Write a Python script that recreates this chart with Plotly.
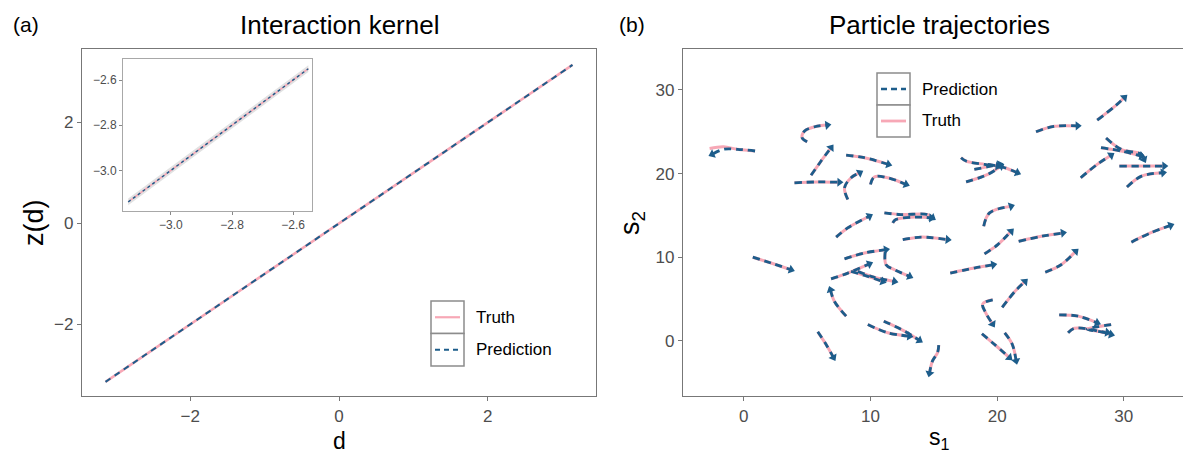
import math
import plotly.graph_objects as go

W, H = 1191, 453

# ---------------- data: panel (a) interaction kernel ----------------
d_vals = [-3.14, -2.0, -1.0, 0.0, 1.0, 2.0, 3.14]
z_truth = [-3.14, -2.0, -1.0, 0.0, 1.0, 2.0, 3.14]
z_pred = [-3.14, -2.0, -1.0, 0.0, 1.0, 2.0, 3.14]

# inset (zoom on the lower end)
inset_d = [-3.14, -3.0, -2.8, -2.6, -2.55]
inset_truth = [-3.14, -3.0, -2.8, -2.6, -2.55]
inset_pred = [-3.14, -3.0, -2.8, -2.6, -2.55]
inset_lower = [-3.155, -3.015, -2.815, -2.615, -2.565]
inset_upper = [-3.125, -2.985, -2.785, -2.585, -2.535]

# ---------------- data: panel (b) particle trajectories ----------------
pred_x = [
    [0.89, -0.5, -1.6, -2.5], [5.0, 4.6, 4.8, 5.6, 6.6], [5.31, 6.1, 6.89],
    [8.08, 9.52, 11.42], [4.0, 5.8, 7.55], [8.21, 7.95, 8.47, 9.16],
    [10.0, 10.3, 11.37, 12.81], [7.29, 8.2, 9.92], [11.1, 12.4, 14.5, 14.9],
    [11.76, 12.0, 13.5, 14.8], [12.55, 14.0, 16.1], [0.71, 2.15, 3.73],
    [7.95, 9.52, 11.23], [11.16, 11.23, 11.9, 13.1], [6.89, 8.21, 9.92],
    [8.47, 9.79, 10.97], [9.0, 10.3, 11.9], [8.08, 7.16, 6.84],
    [5.84, 6.5, 7.08], [9.79, 11.37, 13.08], [11.05, 12.68, 13.87],
    [15.39, 15.3, 14.9, 14.66], [17.15, 17.55, 19.0, 20.05], [18.2, 19.2, 20.2],
    [17.55, 19.26, 20.3], [19.26, 20.6, 21.6], [23.07, 24.5, 26.36],
    [27.9, 29.26, 30.05], [28.6, 29.8, 31.4, 31.6], [28.2, 29.8, 31.4],
    [26.6, 27.9, 29.0], [29.65, 31.4, 33.2], [30.25, 31.4, 33.1],
    [18.94, 19.4, 21.1], [19.0, 20.05, 21.1], [21.7, 23.5, 25.2],
    [16.3, 18.2, 19.7], [23.8, 25.05, 26.2], [30.6, 32.1, 33.7],
    [19.65, 18.86, 19.1, 19.65], [20.4, 21.4, 22.2], [18.8, 19.8, 20.97],
    [20.6, 21.2, 21.5], [24.9, 26.4, 27.9], [25.6, 26.1, 27.4, 29.0],
    [29.0, 28.0, 27.1, 28.7],
]
pred_y = [
    [22.7, 22.9, 22.9, 22.3], [23.8, 24.3, 25.1, 25.6, 25.8], [19.8, 21.5, 23.1],
    [22.2, 21.9, 21.1], [18.9, 19.0, 18.96], [16.9, 18.3, 19.5, 20.1],
    [18.7, 19.6, 19.5, 18.7], [12.4, 13.5, 14.9], [15.3, 15.1, 15.1, 14.7],
    [14.1, 14.5, 14.8, 14.7], [12.1, 12.4, 12.1], [10.0, 9.3, 8.5],
    [9.8, 10.5, 10.9], [10.6, 9.1, 8.5, 7.7], [7.4, 8.1, 9.2],
    [8.3, 7.7, 7.1], [8.3, 7.6, 7.1], [2.95, 4.7, 6.1],
    [1.08, -0.44, -2.0], [1.95, 0.96, 0.56], [2.35, 1.16, 0.04],
    [-0.52, -1.4, -2.4, -3.9], [21.9, 21.5, 21.1, 20.9], [20.5, 20.8, 21.1],
    [19.0, 19.9, 20.9], [21.1, 20.7, 20.1], [25.0, 25.65, 25.7],
    [26.4, 28.0, 29.1], [24.25, 22.9, 22.3, 21.7], [23.1, 22.7, 22.1],
    [19.5, 21.1, 22.2], [20.9, 20.9, 20.9], [18.4, 19.7, 20.1],
    [13.7, 15.3, 16.1], [10.4, 11.5, 13.1], [11.9, 12.5, 12.9],
    [8.1, 8.7, 9.1], [8.2, 9.1, 10.7], [11.8, 12.9, 13.8],
    [4.9, 4.4, 3.35, 2.0], [4.0, 5.9, 7.1], [0.84, -0.44, -2.0],
    [0.96, -0.44, -2.4], [3.1, 2.95, 2.15], [0.96, 1.5, 1.35, 0.75],
    [1.95, 1.7, 1.4, 1.0],
]
# truth paths coincide with predictions except where the picture shows otherwise
truth_x = [list(p) for p in pred_x]
truth_y = [list(p) for p in pred_y]
truth_x[0] = [0.89, -0.5, -1.6, -2.7]
truth_y[0] = [22.7, 22.9, 23.2, 23.0]

TRUTH_C = "#F7A8B6"
PRED_C = "#1D5D8B"
AX_C = "#777777"
TXT = "Liberation Sans, Arial, sans-serif"
TICK_FONT = dict(family=TXT, size=17, color="#4D4D4D")

# panel geometry (pixels)
L_X0, L_X1 = 74, 588
R_X0, R_X1 = 675, 1188
P_Y0, P_Y1 = 41, 388
R_XRANGE = [-4.8, 35.7]
R_YRANGE = [-6.6, 34.9]


def PX(x):
    return x / W


def PY(y):
    return 1 - y / H


fig = go.Figure()

# ---- panel (a)
fig.add_trace(go.Scatter(x=d_vals, y=z_truth, mode="lines", xaxis="x", yaxis="y",
                         line=dict(color=TRUTH_C, width=2.6), showlegend=False))
fig.add_trace(go.Scatter(x=d_vals, y=z_pred, mode="lines", xaxis="x", yaxis="y",
                         line=dict(color=PRED_C, width=2, dash="6px,5px"), showlegend=False))

# ---- inset
fig.add_trace(go.Scatter(x=inset_d, y=inset_lower, mode="lines", xaxis="x3", yaxis="y3",
                         line=dict(width=0), showlegend=False, hoverinfo="skip"))
fig.add_trace(go.Scatter(x=inset_d, y=inset_upper, mode="lines", xaxis="x3", yaxis="y3",
                         line=dict(width=0), fill="tonexty", fillcolor="rgba(190,190,190,0.45)",
                         showlegend=False, hoverinfo="skip"))
fig.add_trace(go.Scatter(x=inset_d, y=inset_truth, mode="lines", xaxis="x3", yaxis="y3",
                         line=dict(color=TRUTH_C, width=1.6), showlegend=False))
fig.add_trace(go.Scatter(x=inset_d, y=inset_pred, mode="lines", xaxis="x3", yaxis="y3",
                         line=dict(color=PRED_C, width=1.4, dash="3px,3px"), showlegend=False))

# ---- panel (b)
for tx, ty in zip(truth_x, truth_y):
    fig.add_trace(go.Scatter(x=tx, y=ty, mode="lines", xaxis="x2", yaxis="y2",
                             line=dict(color=TRUTH_C, width=3, shape="spline"), showlegend=False))
for px_, py_ in zip(pred_x, pred_y):
    fig.add_trace(go.Scatter(x=px_, y=py_, mode="lines", xaxis="x2", yaxis="y2",
                             line=dict(color=PRED_C, width=2.8, dash="7px,5px", shape="spline"),
                             showlegend=False))

# arrowheads: triangles at path ends, rotated along the last segment (in screen space)
sx = (R_X1 - R_X0) / (R_XRANGE[1] - R_XRANGE[0])
sy = (P_Y1 - P_Y0) / (R_YRANGE[1] - R_YRANGE[0])
end_x, end_y, angles = [], [], []
for px_, py_ in zip(pred_x, pred_y):
    dx = (px_[-1] - px_[-2]) * sx
    dy = (py_[-1] - py_[-2]) * sy
    end_x.append(px_[-1])
    end_y.append(py_[-1])
    angles.append(math.degrees(math.atan2(dx, dy)))
fig.add_trace(go.Scatter(x=end_x, y=end_y, mode="markers", xaxis="x2", yaxis="y2",
                         marker=dict(symbol="triangle-up", angle=angles, size=8,
                                     color=PRED_C, line=dict(width=0)),
                         showlegend=False, hoverinfo="skip"))

axis_common = dict(showgrid=False, zeroline=False, showline=True, mirror=True,
                   linecolor=AX_C, linewidth=1.3, ticks="outside", ticklen=4,
                   tickcolor=AX_C, tickwidth=1.3, tickfont=TICK_FONT, automargin=False)
inset_axis = dict(tickformat=".1f", showgrid=False, zeroline=False,
                  showline=True, mirror=True, linecolor="#A8A8A8", linewidth=1, ticks="outside",
                  ticklen=3, tickcolor="#888888", automargin=False,
                  tickfont=dict(family=TXT, size=12, color="#4D4D4D"))

fig.update_layout(
    width=W, height=H,
    margin=dict(l=0, r=0, t=0, b=0),
    paper_bgcolor="white", plot_bgcolor="white",
    font=dict(family=TXT),
    showlegend=False,
    xaxis=dict(domain=[PX(L_X0), PX(L_X1)], range=[-3.456, 3.456], anchor="y",
               tickvals=[-2, 0, 2], **axis_common),
    yaxis=dict(domain=[PY(P_Y1), PY(P_Y0)], range=[-3.42, 3.456], anchor="x",
               tickvals=[-2, 0, 2], **axis_common),
    xaxis2=dict(domain=[PX(R_X0), PX(R_X1)], range=R_XRANGE, anchor="y2",
                tickvals=[0, 10, 20, 30], **axis_common),
    yaxis2=dict(domain=[PY(P_Y1), PY(P_Y0)], range=R_YRANGE, anchor="x2",
                tickvals=[0, 10, 20, 30], **axis_common),
    xaxis3=dict(domain=[PX(115), PX(304)], range=[-3.157, -2.538], anchor="y3",
                tickvals=[-3.0, -2.8, -2.6], **inset_axis),
    yaxis3=dict(domain=[PY(203), PY(51)], range=[-3.18, -2.507], anchor="x3",
                tickvals=[-3.0, -2.8, -2.6], **inset_axis),
)

# ---- custom legends (ggplot-style key boxes)
shapes = []
annotations = []


def legend(x0, y0, kh, entries):
    kw = 33
    for i, (name, color, dash, width) in enumerate(entries):
        top = y0 + i * kh
        shapes.append(dict(type="rect", xref="paper", yref="paper",
                           x0=PX(x0), x1=PX(x0 + kw), y0=PY(top + kh), y1=PY(top),
                           line=dict(color="#8C8C8C", width=1.5), fillcolor="white", layer="above"))
        shapes.append(dict(type="line", xref="paper", yref="paper",
                           x0=PX(x0 + 4), x1=PX(x0 + kw - 4), y0=PY(top + kh / 2), y1=PY(top + kh / 2),
                           line=dict(color=color, width=width, dash=dash), layer="above"))
        annotations.append(dict(text=name, xref="paper", yref="paper", x=PX(x0 + kw + 10),
                                y=PY(top + kh / 2), xanchor="left", yanchor="middle", showarrow=False,
                                font=dict(size=17, color="black", family=TXT)))


legend(423, 293, 32.5, [("Truth", TRUTH_C, "solid", 2.2), ("Prediction", PRED_C, "5px,4px", 2.2)])
legend(869, 65, 32, [("Prediction", PRED_C, "6px,4px", 2.6), ("Truth", TRUTH_C, "solid", 2.8)])

annotations += [
    dict(text="(a)", x=PX(3), y=PY(17), xanchor="left", yanchor="middle", font=dict(size=21, family=TXT, color="black")),
    dict(text="(b)", x=PX(609), y=PY(17), xanchor="left", yanchor="middle", font=dict(size=21, family=TXT, color="black")),
    dict(text="Interaction kernel", x=PX(331), y=PY(17), xanchor="center", yanchor="middle",
         font=dict(size=26, family=TXT, color="black")),
    dict(text="Particle trajectories", x=PX(931), y=PY(17), xanchor="center", yanchor="middle",
         font=dict(size=26, family=TXT, color="black")),
    dict(text="z(d)", x=PX(26), y=PY(215), textangle=-90, xanchor="center", yanchor="middle",
         font=dict(size=27, family=TXT, color="black")),
    dict(text="d", x=PX(331), y=PY(433), xanchor="center", yanchor="middle",
         font=dict(size=23, family=TXT, color="black")),
    dict(text="s<sub>1</sub>", x=PX(931), y=PY(430), xanchor="center", yanchor="middle",
         font=dict(size=23, family=TXT, color="black")),
    dict(text="s<sub>2</sub>", x=PX(624), y=PY(215), textangle=-90, xanchor="center", yanchor="middle",
         font=dict(size=27, family=TXT, color="black")),
]
for a in annotations:
    a.setdefault("xref", "paper")
    a.setdefault("yref", "paper")
    a.setdefault("showarrow", False)

fig.update_layout(shapes=shapes, annotations=annotations)
fig.write_html("out.html")
